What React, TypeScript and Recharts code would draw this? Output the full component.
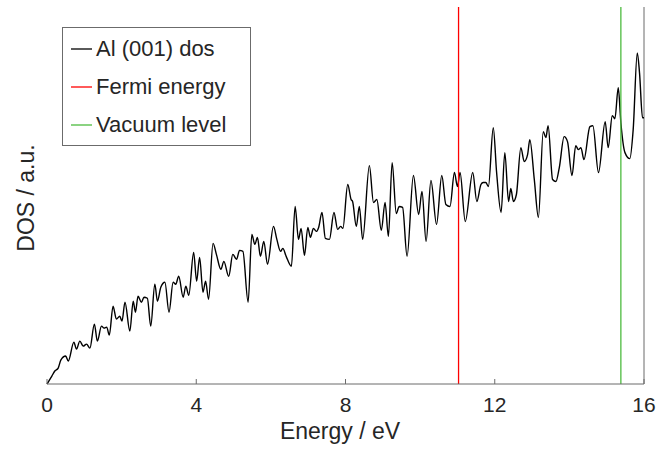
import { LineChart, Line, XAxis, YAxis, ReferenceLine, Legend, Label } from 'recharts'

const energies = [
  0, 0.13, 0.21, 0.3, 0.37, 0.5, 0.57, 0.72, 0.79, 0.88, 0.97, 1.06, 1.15, 1.27, 1.35, 1.46, 1.53, 1.6, 1.67, 1.77,
  1.86, 1.95, 2.01, 2.09, 2.22, 2.31, 2.37, 2.44, 2.53, 2.6, 2.69, 2.78, 2.89, 2.96, 3.05, 3.16, 3.27, 3.38, 3.45, 3.53,
  3.65, 3.72, 3.8, 3.93, 4.01, 4.09, 4.18, 4.25, 4.33, 4.45, 4.54, 4.66, 4.74, 4.87, 4.98, 5.08, 5.16, 5.25, 5.39, 5.49,
  5.57, 5.64, 5.72, 5.81, 5.91, 6.07, 6.16, 6.26, 6.32, 6.41, 6.55, 6.65, 6.74, 6.81, 6.9, 6.99, 7.06, 7.14, 7.22, 7.28,
  7.37, 7.46, 7.57, 7.69, 7.79, 7.87, 7.93, 8.06, 8.15, 8.19, 8.29, 8.37, 8.46, 8.64, 8.75, 8.84, 8.96, 9.06, 9.15, 9.25,
  9.36, 9.44, 9.53, 9.65, 9.82, 9.96, 10.05, 10.16, 10.29, 10.44, 10.58, 10.69, 10.8, 10.92, 11.0, 11.07, 11.21, 11.41,
  11.52, 11.63, 11.69, 11.76, 11.83, 11.96, 12.05, 12.17, 12.27, 12.37, 12.43, 12.5, 12.58, 12.7, 12.79, 12.88, 12.94,
  13.06, 13.17, 13.3, 13.37, 13.43, 13.55, 13.64, 13.73, 13.86, 13.95, 14.07, 14.17, 14.24, 14.31, 14.39, 14.55, 14.63,
  14.78, 14.96, 15.04, 15.15, 15.22, 15.31, 15.38, 15.49, 15.62, 15.71, 15.82, 15.88, 15.96, 16.0,
]

const dos = [
  0, 8, 13, 16, 24, 28, 23, 42, 35, 43, 38, 40, 36, 60, 43, 58, 56, 57, 49, 78,
  65, 68, 63, 82, 53, 83, 72, 88, 82, 87, 86, 58, 100, 83, 97, 102, 72, 102, 100, 108,
  87, 98, 89, 132, 103, 127, 92, 103, 85, 141, 130, 115, 123, 108, 130, 125, 134, 133, 82, 150,
  140, 147, 128, 143, 120, 158, 145, 133, 136, 128, 118, 178, 145, 156, 129, 157, 147, 156, 153, 157,
  172, 146, 145, 172, 155, 158, 156, 200, 185, 183, 158, 178, 145, 219, 182, 185, 154, 182, 148, 222,
  171, 178, 177, 128, 209, 170, 193, 143, 204, 160, 209, 180, 178, 212, 198, 212, 163, 212,
  183, 200, 202, 202, 198, 257, 212, 172, 232, 183, 196, 183, 190, 237, 223, 230, 245,
  205, 167, 253, 247, 259, 205, 203, 217, 248, 243, 209, 239, 235, 237, 225, 258, 259,
  212, 263, 237, 269, 266, 297, 262, 232, 226, 255, 332, 312, 267, 267,
]

const xTicks = [0, 4, 8, 12, 16]
const fermiEnergy = 11.03
const vacuumLevel = 15.38

const legendNames = ['Al (001) dos', 'Fermi energy', 'Vacuum level']
const legendColors = ['#000000', '#ff0000', '#4dbb3f']

const data = energies.map((e, i) => ({ e, dos: dos[i] }))

const FONT = '"Liberation Sans", Arial, sans-serif'
const INK = '#262626'
const AXIS = '#6b6b6b'

function BottomTick({ x, y, payload }: any) {
  return (
    <g>
      <line x1={x} y1={y} x2={x} y2={y - 5} stroke={AXIS} strokeWidth={1} />
      <text x={x} y={y + 28} textAnchor="middle" fontSize={21} fontFamily={FONT} fill={INK}>
        {payload.value}
      </text>
    </g>
  )
}

function TopTick({ x, y }: any) {
  return <line x1={x} y1={y} x2={x} y2={y + 5} stroke={AXIS} strokeWidth={1} />
}

function AxisTitles() {
  return (
    <g>
      <text x={340} y={439} textAnchor="middle" fontSize={23} fontFamily={FONT} fill={INK}>
        Energy / eV
      </text>
      <text
        x={26}
        y={198}
        transform="rotate(-90 26 198)"
        textAnchor="middle"
        dominantBaseline="central"
        fontSize={23}
        fontFamily={FONT}
        fill={INK}
      >
        DOS / a.u.
      </text>
    </g>
  )
}

function LegendBox() {
  return (
    <svg width={189} height={119} style={{ display: 'block' }}>
      <rect x={0.5} y={0.5} width={188} height={118} fill="#fff" stroke={AXIS} strokeWidth={1} />
      {legendNames.map((name, i) => (
        <g key={name}>
          <line x1={9} x2={30} y1={22 + i * 38} y2={22 + i * 38} stroke={legendColors[i]} strokeWidth={1.3} />
          <text x={34} y={29 + i * 38} fontSize={22} fontFamily={FONT} fill={INK}>
            {name}
          </text>
        </g>
      ))}
    </svg>
  )
}

export default function App() {
  return (
    <div style={{ position: 'absolute', left: 0, top: 0, width: 670, height: 450, background: '#fff' }}>
      <LineChart width={670} height={450} data={data} margin={{ top: 7, right: 26, left: 47, bottom: 0 }}>
        <XAxis
          dataKey="e"
          type="number"
          domain={[0, 16]}
          ticks={xTicks}
          height={66}
          tickSize={0}
          tickMargin={0}
          tickLine={false}
          axisLine={{ stroke: AXIS, strokeWidth: 1 }}
          tick={(p: any) => <BottomTick {...p} />}
        >
          <Label content={() => <AxisTitles />} />
        </XAxis>
        <XAxis
          xAxisId="top"
          orientation="top"
          dataKey="e"
          type="number"
          domain={[0, 16]}
          ticks={xTicks}
          height={0}
          tickSize={0}
          tickMargin={0}
          tickLine={false}
          axisLine={{ stroke: AXIS, strokeWidth: 1 }}
          tick={(p: any) => <TopTick {...p} />}
        />
        <YAxis
          type="number"
          domain={[0, 378]}
          width={0}
          tick={false}
          tickLine={false}
          axisLine={{ stroke: AXIS, strokeWidth: 1 }}
        />
        <Legend
          layout="horizontal"
          verticalAlign="middle"
          align="center"
          wrapperStyle={{ left: 62, top: 27, width: 'auto', height: 'auto' }}
          content={() => <LegendBox />}
        />
        <ReferenceLine x={16} stroke={AXIS} strokeWidth={1} />
        <Line
          type="monotone"
          dataKey="dos"
          stroke="#000000"
          strokeWidth={1.4}
          dot={false}
          isAnimationActive={false}
          name="Al (001) dos"
        />
        <ReferenceLine x={fermiEnergy} stroke="#ff0000" strokeWidth={1.3} />
        <ReferenceLine x={vacuumLevel} stroke="#4dbb3f" strokeWidth={1.3} />
      </LineChart>
    </div>
  )
}
